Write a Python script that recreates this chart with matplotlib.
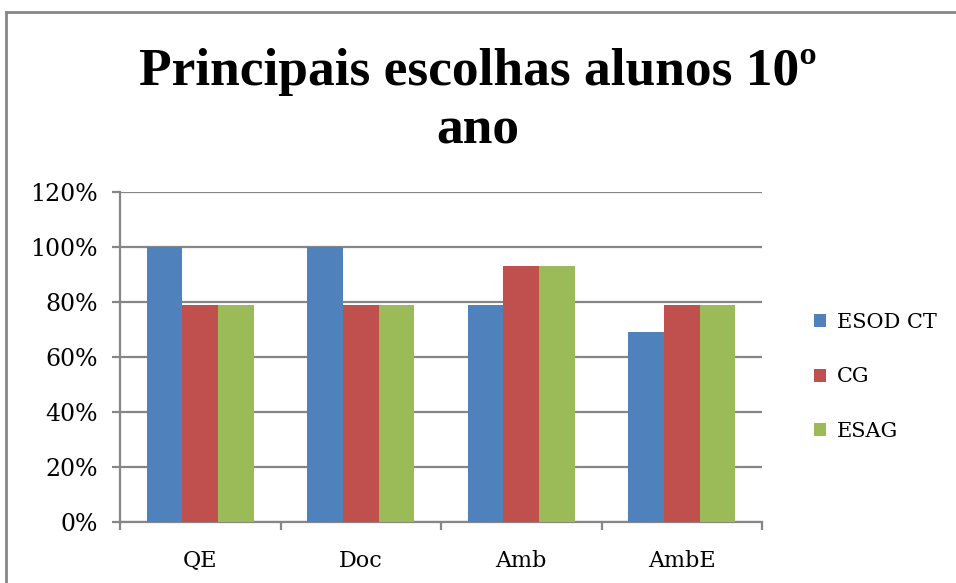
import numpy as np
import matplotlib
matplotlib.use("Agg")
import matplotlib.pyplot as plt
from matplotlib.lines import Line2D
from matplotlib.ticker import FuncFormatter

categorias = ["QE", "Doc", "Amb", "AmbE"]
series = ["ESOD CT", "CG", "ESAG"]
esod_ct = [100, 100, 79, 69]
cg = [79, 79, 93, 79]
esag = [79, 79, 93, 79]
yticks = [0, 20, 40, 60, 80, 100, 120]

cores = ["#4F81BD", "#C0504D", "#9BBB59"]
cinza = "#868686"

plt.rcParams["font.family"] = ["DejaVu Serif"]

fig = plt.figure(figsize=(9.56, 5.83), dpi=100)
ax = fig.add_axes([120 / 956, 61 / 583, 642 / 956, 330 / 583])

x = np.arange(len(categorias))
largura = 1 / 4.5
for i, (vals, nome) in enumerate(zip([esod_ct, cg, esag], series)):
    ax.bar(x + (i - 1) * largura, vals, largura, color=cores[i], label=nome, zorder=3)

ax.set_xlim(-0.5, len(categorias) - 0.5)
ax.set_ylim(0, 120)
ax.set_yticks(yticks)
ax.yaxis.set_major_formatter(FuncFormatter(lambda v, p: f"{v:.0f}%"))
ax.yaxis.grid(True, color=cinza, linewidth=1.6, zorder=0)
ax.tick_params(axis="y", length=6, width=1.6, color=cinza, pad=10, labelsize=17)

ax.set_xticks(x)
ax.set_xticklabels(categorias)
ax.set_xticks(np.arange(-0.5, len(categorias)), minor=True)
ax.tick_params(axis="x", which="major", length=0, pad=20, labelsize=16)
ax.tick_params(axis="x", which="minor", length=6, width=1.6, color=cinza)

for s in ["top", "right"]:
    ax.spines[s].set_visible(False)
for s in ["left", "bottom"]:
    ax.spines[s].set_color(cinza)
    ax.spines[s].set_linewidth(1.6)

titulo = dict(ha="center", va="center", fontsize=38.5, fontweight="bold",
              family=["Liberation Serif", "DejaVu Serif"])
fig.text(0.5, 1 - 72 / 583, "Principais escolhas alunos 10º", **titulo)
fig.text(0.5, 1 - 131 / 583, "ano", **titulo)

ax.legend(loc="center left", bbox_to_anchor=(795 / 956, 1 - 377 / 583),
          bbox_transform=fig.transFigure, frameon=False, fontsize=15,
          handlelength=0.6, handleheight=0.6, labelspacing=1.7, handletextpad=0.5)

# moldura do grafico
fig.add_artist(Line2D([6 / 956, 1], [1 - 12 / 583, 1 - 12 / 583], color=cinza, linewidth=2))
fig.add_artist(Line2D([6 / 956, 6 / 956], [0, 1 - 12 / 583], color=cinza, linewidth=2))

fig.savefig("out.png", dpi=100)
